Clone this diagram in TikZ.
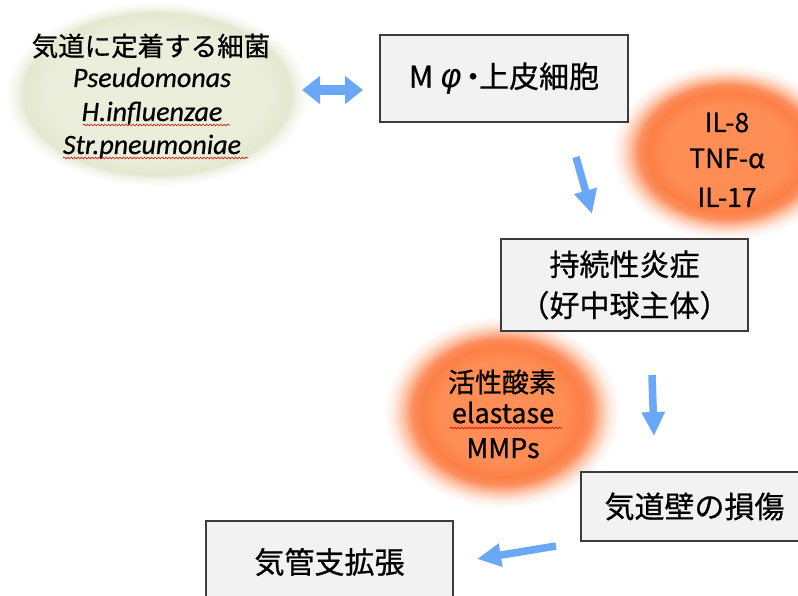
\documentclass[tikz,border=0pt]{standalone}
\usepackage{fontspec}
\setmainfont{Noto Sans CJK JP}[FakeBold=0.7]
\newfontfamily\latinit{Carlito}[ItalicFeatures={FakeBold=0.6}]
\newfontfamily\grk{DejaVu Sans}
\usetikzlibrary{arrows.meta,decorations.pathmorphing}

\definecolor{arrowblue}{RGB}{106,167,247}
\definecolor{boxfill}{RGB}{242,242,242}
\definecolor{boxline}{RGB}{60,60,60}
\definecolor{orcore}{RGB}{255,142,86}
\definecolor{ordeep}{RGB}{252,128,70}
\definecolor{orring}{RGB}{252,142,94}
\definecolor{orlight}{RGB}{253,196,168}
\definecolor{orpale}{RGB}{254,236,227}
\definecolor{grcore}{RGB}{235,238,218}
\definecolor{gredge}{RGB}{227,232,207}
\definecolor{grpale}{RGB}{241,243,231}

\pgfdeclareradialshading{orangeglow}{\pgfpoint{0bp}{0bp}}{%
color(0bp)=(orcore); color(13bp)=(orcore); color(17bp)=(ordeep); color(19bp)=(orring);
color(21bp)=(orlight); color(23bp)=(orpale); color(25bp)=(white); color(50bp)=(white)}
\pgfdeclareradialshading{greenglow}{\pgfpoint{0bp}{0bp}}{%
color(0bp)=(grcore); color(18bp)=(grcore); color(22bp)=(gredge);
color(23bp)=(grpale); color(25bp)=(white); color(50bp)=(white)}

\tikzset{
  stepbox/.style={draw=boxline, line width=1.2pt, fill=boxfill, inner sep=0pt,
    font=\fontsize{30}{41}\selectfont, align=center},
  barrow/.style={draw=arrowblue, line width=7.5pt,
    -{Triangle[width=22pt,length=24pt,color=arrowblue]}},
  dblarrow/.style={draw=arrowblue, line width=10pt,
    {Triangle[width=27pt,length=18pt,color=arrowblue]}-{Triangle[width=27pt,length=18pt,color=arrowblue]}},
  wavy/.style={draw=red!85!black, line width=0.6pt,
    decorate, decoration={snake, segment length=3.5pt, amplitude=0.9pt}},
  jp/.style={inner sep=0pt},
  ital/.style={inner sep=0pt, anchor=base, font=\latinit\itshape\fontsize{28}{30}\selectfont},
  cyto/.style={inner sep=0pt, anchor=base, font=\fontsize{26.5}{30}\selectfont},
}

\begin{document}
\begin{tikzpicture}[x=1pt,y=-1pt]
\useasboundingbox (0,0) rectangle (798,596);
\fill[white] (0,0) rectangle (798,596);
\clip (0,0) rectangle (798,596);

% glowing ellipses
\shade[shading=greenglow] (157,94) ellipse [x radius=152pt, y radius=92pt];
\shade[shading=orangeglow] (727,152) ellipse [x radius=116pt, y radius=88pt];
\shade[shading=orangeglow] (502,412) ellipse [x radius=118pt, y radius=96pt];

% bacteria text
\node[jp, font=\fontsize{26.5}{30}\selectfont] (bac) at (151,46) {気道に定着する細菌};
\node[ital] (pse) at (152,87) {Pseudomonas};
\node[ital] (hin) at (152,121) {H.influenzae};
\node[ital] (str) at (152,154) {Str.pneumoniae};
\coordinate (w1a) at (83,125); \coordinate (w1b) at (230,125);
\coordinate (w2a) at (63,158); \coordinate (w2b) at (248,158);
\draw[wavy] (w1a) -- (w1b);
\draw[wavy] (w2a) -- (w2b);

% cytokines
\node[cyto] (il8) at (727,132) {IL-8};
\node[cyto] (tnf) at (727,168) {TNF-α};
\node[cyto] (il17) at (727,207) {IL-17};

% proteases
\node[jp, font=\fontsize{27}{30}\selectfont] (ros) at (502,382) {活性酸素};
\node[cyto, font=\fontsize{27}{30}\selectfont] (ela) at (503,423) {elastase};
\node[cyto, font=\fontsize{27}{30}\selectfont] (mmp) at (503,458) {MMPs};
\coordinate (w3a) at (450,428); \coordinate (w3b) at (562,428);
\draw[wavy] (w3a) -- (w3b);

% boxes
\node[stepbox, minimum width=248pt, minimum height=87pt] (mac) at (504,78.5)
  {M\hspace{0.22em}{\grk\itshape\fontsize{33}{41}\selectfont φ}\hspace{-0.12em}・\hspace{-0.3em}上皮細胞};
\node[stepbox, minimum width=247pt, minimum height=92pt] (inf) at (624.5,285)
  {持続性炎症\\（好中球主体）};
\node[stepbox, minimum width=227pt, minimum height=69pt] (dam) at (694.5,506.5) {気道壁の損傷};
\node[stepbox, minimum width=247pt, minimum height=82pt] (bro) at (329.5,562) {気管支拡張};

% arrows
\coordinate (a0s) at (302,90); \coordinate (a0e) at (363,90);
\draw[dblarrow] (a0s) -- (a0e);
\coordinate (a1s) at (576,157); \coordinate (a1e) at (592,214);
\draw[barrow] (a1s) -- (a1e);
\coordinate (a2s) at (652,375); \coordinate (a2e) at (654,436);
\draw[barrow] (a2s) -- (a2e);
\coordinate (a3s) at (556,546); \coordinate (a3e) at (477,559);
\draw[barrow] (a3s) -- (a3e);
\end{tikzpicture}
\end{document}
